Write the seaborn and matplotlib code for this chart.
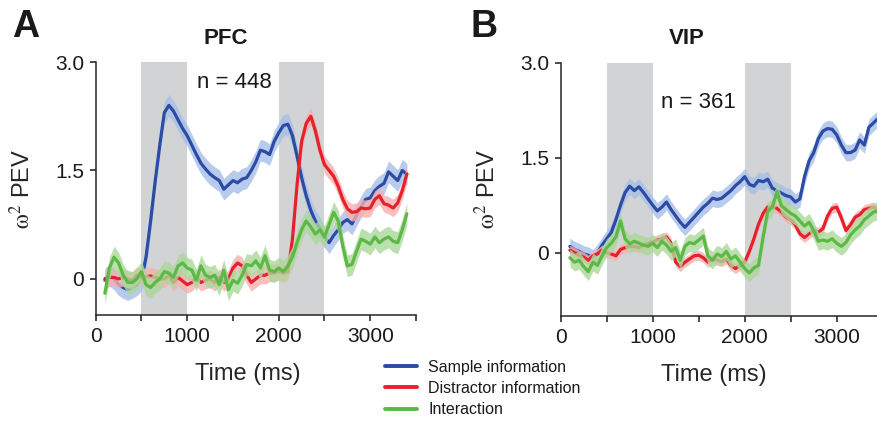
import numpy as np
import pandas as pd
import matplotlib
matplotlib.use("Agg")
import matplotlib.pyplot as plt
from matplotlib.lines import Line2D
import seaborn as sns

# ---------------- data ----------------
time_pfc = list(range(100, 3401, 50))
pfc_sample = [0.00, 0.05, 0.00, -0.08, -0.12, -0.15, -0.12, -0.08, -0.02, 0.30,
              0.80, 1.35, 1.85, 2.30, 2.40, 2.32, 2.20, 2.08, 1.98, 1.85,
              1.72, 1.60, 1.52, 1.45, 1.40, 1.36, 1.24, 1.30, 1.36, 1.33,
              1.38, 1.40, 1.50, 1.62, 1.78, 1.76, 1.72, 1.90, 2.02, 2.12,
              2.14, 1.98, 1.70, 1.40, 1.15, 0.95, 0.80, 0.70, 0.58, 0.50,
              0.60, 0.68, 0.78, 0.82, 0.76, 0.88, 1.00, 1.10, 1.12, 1.22,
              1.28, 1.32, 1.48, 1.42, 1.36, 1.50, 1.45]
pfc_distractor = [-0.02, 0.02, 0.02, 0.00, 0.02, 0.00, -0.02, 0.05, 0.02, 0.03,
                  0.04, 0.02, 0.00, 0.00, 0.05, -0.05, 0.02, -0.03, -0.08, -0.05,
                  0.02, -0.05, -0.02, 0.00, -0.05, 0.02, -0.05, 0.00, 0.15, 0.22,
                  0.18, 0.05, -0.05, 0.00, 0.05, 0.05, 0.08, 0.08, 0.10, 0.08,
                  0.10, 0.55, 1.30, 1.90, 2.15, 2.25, 2.05, 1.78, 1.58, 1.50,
                  1.42, 1.28, 1.10, 0.97, 0.92, 0.93, 0.98, 0.97, 0.98, 1.10,
                  1.15, 1.04, 1.02, 0.98, 1.05, 1.22, 1.45]
pfc_interaction = [-0.20, 0.15, 0.30, 0.22, 0.05, -0.05, -0.05, 0.00, 0.10, -0.08,
                   -0.12, -0.05, 0.00, 0.10, 0.08, 0.02, 0.18, 0.22, 0.15, 0.12,
                   -0.02, 0.18, 0.05, 0.02, 0.05, -0.08, 0.12, -0.15, -0.02, -0.06,
                   0.05, 0.20, 0.18, 0.25, 0.15, 0.32, 0.12, 0.10, 0.15, 0.10,
                   0.18, 0.30, 0.50, 0.68, 0.80, 0.72, 0.62, 0.68, 0.58, 0.75,
                   0.92, 0.80, 0.45, 0.18, 0.20, 0.38, 0.55, 0.52, 0.48, 0.58,
                   0.50, 0.55, 0.58, 0.52, 0.50, 0.68, 0.90]

time_vip = list(range(100, 3451, 50))
vip_sample = [0.10, 0.05, 0.02, -0.02, -0.04, -0.08, 0.00, 0.12, 0.22, 0.32,
              0.52, 0.75, 0.95, 1.05, 0.98, 1.04, 0.95, 0.85, 0.75, 0.66,
              0.72, 0.80, 0.68, 0.58, 0.48, 0.40, 0.48, 0.56, 0.64, 0.72,
              0.78, 0.86, 0.84, 0.86, 0.92, 0.98, 1.06, 1.12, 1.20, 1.08,
              1.05, 1.14, 1.12, 1.16, 1.02, 0.98, 0.94, 0.90, 0.88, 0.80,
              0.85, 1.20, 1.45, 1.58, 1.80, 1.92, 1.96, 1.95, 1.86, 1.70,
              1.58, 1.58, 1.62, 1.78, 1.70, 1.98, 2.05, 2.12]
vip_distractor = [0.04, 0.00, -0.04, -0.07, -0.12, -0.05, -0.02, 0.04, 0.00, -0.02,
                  -0.05, 0.05, 0.08, 0.10, 0.10, 0.08, 0.12, 0.15, 0.17, 0.20,
                  0.22, 0.25, 0.15, -0.15, -0.22, -0.15, -0.10, -0.05, -0.04, -0.08,
                  -0.15, -0.10, -0.12, -0.14, -0.10, -0.20, -0.25, -0.20, -0.15, 0.02,
                  0.22, 0.45, 0.62, 0.72, 0.72, 0.70, 0.64, 0.56, 0.52, 0.44,
                  0.30, 0.24, 0.30, 0.35, 0.32, 0.38, 0.58, 0.70, 0.72, 0.55,
                  0.35, 0.44, 0.56, 0.60, 0.68, 0.70, 0.72, 0.68]
vip_interaction = [-0.08, -0.15, -0.12, -0.22, -0.30, -0.15, -0.20, -0.05, 0.08, 0.15,
                   0.25, 0.50, 0.22, 0.14, 0.18, 0.15, 0.12, 0.10, 0.15, 0.08,
                   0.18, 0.12, 0.02, 0.08, -0.12, 0.10, 0.16, 0.14, 0.20, 0.26,
                   -0.05, -0.12, -0.02, -0.06, 0.02, -0.10, -0.05, -0.15, -0.25, -0.32,
                   -0.24, -0.20, 0.25, 0.65, 0.72, 0.96, 0.74, 0.68, 0.62, 0.58,
                   0.50, 0.42, 0.48, 0.35, 0.18, 0.20, 0.18, 0.22, 0.15, 0.10,
                   0.16, 0.28, 0.36, 0.42, 0.52, 0.58, 0.64, 0.66]

# band half-widths (s.e.m.) per series
pfc_sem = [0.15, 0.12, 0.15]
vip_sem = [0.13, 0.08, 0.14]

series_names = ["Sample information", "Distractor information", "Interaction"]
line_colors = ["#2C4BA5", "#E8202A", "#5CB946"]
band_colors = ["#A6BFE8", "#F6B0B0", "#ABD89A"]

periods = [(500, 1000), (2000, 2500)]
panels = [
    dict(letter="A", title="PFC", n="n = 448", time=time_pfc,
         vals=[pfc_sample, pfc_distractor, pfc_interaction], sem=pfc_sem,
         ylim=(-0.5, 3.0)),
    dict(letter="B", title="VIP", n="n = 361", time=time_vip,
         vals=[vip_sample, vip_distractor, vip_interaction], sem=vip_sem,
         ylim=(-1.0, 3.0)),
]

# ---------------- style ----------------
sns.set_style("ticks")
plt.rcParams["font.family"] = ["Liberation Sans", "DejaVu Sans"]
plt.rcParams["mathtext.fontset"] = "stix"
plt.rcParams["axes.linewidth"] = 1.1
plt.rcParams["xtick.major.width"] = 1.1
plt.rcParams["ytick.major.width"] = 1.1
plt.rcParams["text.color"] = "#1a1a1a"

W, H = 877, 421
fig = plt.figure(figsize=(W / 100, H / 100), dpi=100)

ax_rects = [
    [95.7 / W, 1 - 315 / H, 320.3 / W, (315 - 62) / H],
    [560.7 / W, 1 - 316 / H, 322 / W, (316 - 62.7) / H],
]
n_pos = [(234 / W, 1 - 82 / H), (698 / W, 1 - 102 / H)]
title_pos = [(226 / W, 1 - 38 / H), (687 / W, 1 - 38 / H)]
letter_pos = [(26 / W, 1 - 27 / H), (484 / W, 1 - 27 / H)]

for p, rect, npos, tpos, lpos in zip(panels, ax_rects, n_pos, title_pos, letter_pos):
    ax = fig.add_axes(rect)
    for (a, b) in periods:
        ax.axvspan(a, b, color="#D1D3D5", lw=0, zorder=0)
    t = np.array(p["time"])
    for i, (name, vals) in enumerate(zip(series_names, p["vals"])):
        v = np.array(vals)
        s = p["sem"][i]
        ax.fill_between(t, v - s, v + s, color=band_colors[i], alpha=0.8,
                        lw=0, zorder=2 + 2 * i)
        df = pd.DataFrame({"time": t, "value": v})
        sns.lineplot(data=df, x="time", y="value", ax=ax, color=line_colors[i],
                     lw=2.3, zorder=3 + 2 * i, legend=False)
    ax.set_xlim(0, 3500)
    ax.set_ylim(*p["ylim"])
    ax.set_xticks(range(0, 3501, 500))
    ax.set_xticklabels(["0", "", "1000", "", "2000", "", "3000", ""])
    ax.set_yticks([0, 1.5, 3.0])
    ax.set_yticklabels(["0", "1.5", "3.0"])
    ax.tick_params(axis="both", direction="out", length=4.5, labelsize=15,
                   colors="#1a1a1a", pad=4)
    ax.set_xlabel("Time (ms)", fontsize=17, labelpad=10)
    ax.xaxis.set_label_coords(0.475, -0.19)
    ax.set_ylabel(r"$\mathrm{\omega}^2$ PEV", fontsize=17, labelpad=14)
    sns.despine(ax=ax)
    fig.text(npos[0], npos[1], p["n"], fontsize=16, ha="center", va="center")
    fig.text(tpos[0], tpos[1], p["title"], fontsize=16, fontweight="bold",
             ha="center", va="center")
    fig.text(lpos[0], lpos[1], p["letter"], fontsize=27, fontweight="bold",
             ha="center", va="center")

handles = [Line2D([], [], color=c, lw=2.8) for c in line_colors]
fig.legend(handles, series_names, loc="upper left",
           bbox_to_anchor=(385 / W, 1 - 360 / H), frameon=False,
           fontsize=11.5, handlelength=2.0, handletextpad=0.7,
           labelspacing=0.38, borderpad=0, borderaxespad=0)

fig.savefig("out.png", dpi=100)
